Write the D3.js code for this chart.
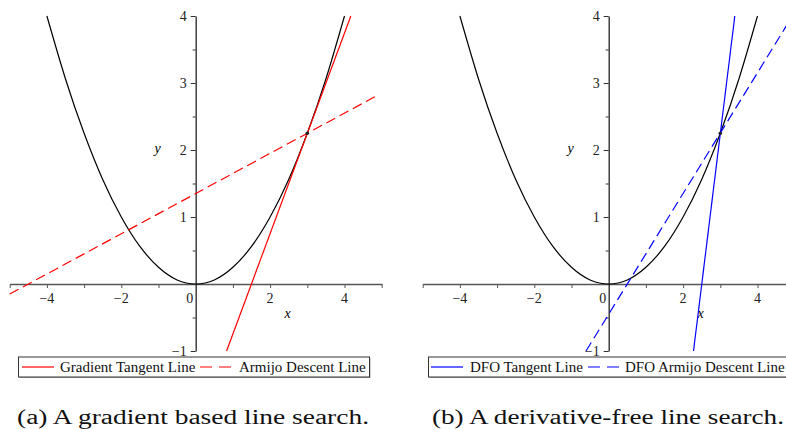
<!DOCTYPE html>
<html>
<head>
<meta charset="utf-8">
<script src="https://cdn.jsdelivr.net/npm/d3@7"></script>
<style>
  body { margin: 0; background: #fff; }
  svg { display: block; }
</style>
</head>
<body>
<script>
"use strict";

// parabola (y = x^2/4 shape)
let curveX = [-4, -3.5, -3, -2.5, -2, -1.5, -1, -0.5, 0, 0.5, 1, 1.5, 2, 2.5, 3, 3.5, 4];
let curveY = [4, 3.06, 2.25, 1.56, 1, 0.56, 0.25, 0.06, 0, 0.06, 0.25, 0.56, 1, 1.56, 2.25, 3.06, 4];

// (a) gradient based
let gradTangentX = [0.83, 4.17];
let gradTangentY = [-1, 4];
let armijoX = [-5, 4.9];
let armijoY = [-0.15, 2.82];

// (b) derivative free
let dfoTangentX = [2.28, 3.39];
let dfoTangentY = [-1, 4];
let dfoArmijoX = [-0.61, 4.94];
let dfoArmijoY = [-1, 4];

// the current iterate
let pointX = [3];
let pointY = [2.25];

let xMajorTicks = [-4, -2, 0, 2, 4];
let xAllTicks = [-5, -4, -3, -2, -1, 1, 2, 3, 4, 5];
let yMajorTicks = [-1, 1, 2, 3, 4];
let yMinorTicks = [-0.5, 0.5, 1.5, 2.5, 3.5];

let legendA = ["Gradient Tangent Line", "Armijo Descent Line"];
let legendB = ["DFO Tangent Line", "DFO Armijo Descent Line"];
let captionA = "(a) A gradient based line search.";
let captionB = "(b) A derivative-free line search.";

let w = 786;
let h = 429;
let serif = "'Liberation Serif', 'Times New Roman', serif";

let svg = d3.select("body")
    .append("svg")
    .attr("width", w)
    .attr("height", h)
    .style("background", "#fff");

function zip(xs, ys) {
    return xs.map(function (v, i) { return [v, ys[i]]; });
}

function fmt(d) {
    return d < 0 ? "\u2212" + Math.abs(d) : String(d);
}

function drawPanel(left, color, solid, dashed, legend, legendPos) {
    let x = d3.scaleLinear().domain([-5, 5]).range([left, left + 372]);
    let y = d3.scaleLinear().domain([-1, 4]).range([351, 16]);
    let g = svg.append("g");

    //x axis through y = 0
    let xAxis = g.append("g")
        .attr("transform", "translate(0," + y(0) + ")")
        .call(d3.axisBottom(x).tickValues(xAllTicks).tickSize(4).tickSizeOuter(0).tickFormat(""));
    xAxis.select(".domain").attr("stroke", "#555").attr("stroke-width", 1.4);
    xAxis.selectAll(".tick line").attr("stroke", "#555");

    //y axis through x = 0
    let yAxis = g.append("g")
        .attr("transform", "translate(" + x(0) + ",0)")
        .call(d3.axisLeft(y).tickValues(yMajorTicks).tickSize(5).tickSizeOuter(0).tickFormat(""));
    yAxis.select(".domain").attr("stroke", "#333").attr("stroke-width", 1.4);
    yAxis.selectAll(".tick line").attr("stroke", "#333");

    let yMinor = g.append("g")
        .attr("transform", "translate(" + x(0) + ",0)")
        .call(d3.axisLeft(y).tickValues(yMinorTicks).tickSize(3).tickFormat(""));
    yMinor.select(".domain").remove();
    yMinor.selectAll(".tick line").attr("stroke", "#333");

    //y tick labels
    g.selectAll(".ylab")
        .data(yMajorTicks)
        .enter()
        .append("text")
        .attr("x", x(0) - 9)
        .attr("y", function (d) { return y(d) + 5; })
        .attr("text-anchor", "end")
        .attr("font-family", serif)
        .attr("font-size", 14)
        .attr("fill", "#222")
        .text(fmt);

    //x tick labels ("0" sits left of the y axis)
    g.selectAll(".xlab")
        .data(xMajorTicks)
        .enter()
        .append("text")
        .attr("x", function (d) { return d === 0 ? x(d) - 6 : x(d); })
        .attr("y", y(0) + 19)
        .attr("text-anchor", "middle")
        .attr("font-family", serif)
        .attr("font-size", 14)
        .attr("fill", "#222")
        .text(fmt);

    //axis names
    g.append("text")
        .attr("x", x(2.47))
        .attr("y", y(0) + 34)
        .attr("text-anchor", "middle")
        .attr("font-family", serif)
        .attr("font-style", "italic")
        .attr("font-size", 14)
        .text("x");
    g.append("text")
        .attr("x", x(0) - 38)
        .attr("y", y(1.95))
        .attr("text-anchor", "middle")
        .attr("font-family", serif)
        .attr("font-style", "italic")
        .attr("font-size", 14)
        .text("y");

    let line = d3.line()
        .x(function (d) { return x(d[0]); })
        .y(function (d) { return y(d[1]); });

    g.append("path")
        .datum(zip(curveX, curveY))
        .attr("fill", "none")
        .attr("stroke", "#000")
        .attr("stroke-width", 1.2)
        .attr("d", line.curve(d3.curveNatural));

    line.curve(d3.curveLinear);

    g.append("path")
        .datum(zip(solid[0], solid[1]))
        .attr("fill", "none")
        .attr("stroke", color)
        .attr("stroke-width", 1.2)
        .attr("d", line);

    g.append("path")
        .datum(zip(dashed[0], dashed[1]))
        .attr("fill", "none")
        .attr("stroke", color)
        .attr("stroke-width", 1.2)
        .attr("stroke-dasharray", "10,5")
        .attr("d", line);

    g.selectAll(".pt")
        .data(zip(pointX, pointY))
        .enter()
        .append("circle")
        .attr("cx", function (d) { return x(d[0]); })
        .attr("cy", function (d) { return y(d[1]); })
        .attr("r", 1.8)
        .attr("fill", "#222");

    //legend box
    let lg = g.append("g");
    lg.append("rect")
        .attr("x", legendPos.x + 1)
        .attr("y", 358)
        .attr("width", legendPos.w)
        .attr("height", 20)
        .attr("fill", "#aaa");
    lg.append("rect")
        .attr("x", legendPos.x)
        .attr("y", 357)
        .attr("width", legendPos.w)
        .attr("height", 20)
        .attr("fill", "#fff")
        .attr("stroke", "#333")
        .attr("stroke-width", 1);

    lg.selectAll(".sample")
        .data(legendPos.samples)
        .enter()
        .append("line")
        .attr("x1", function (d) { return d; })
        .attr("x2", function (d) { return d + 32; })
        .attr("y1", 367)
        .attr("y2", 367)
        .attr("stroke", color)
        .attr("stroke-width", 1.2)
        .attr("stroke-dasharray", function (d, i) { return i === 1 ? "12,7" : null; });

    lg.selectAll(".ltext")
        .data(legend)
        .enter()
        .append("text")
        .attr("x", function (d, i) { return legendPos.texts[i]; })
        .attr("y", 372)
        .attr("font-family", serif)
        .attr("font-size", 15)
        .attr("fill", "#111")
        .text(function (d) { return d; });
}

drawPanel(9.7, "#ff0000", [gradTangentX, gradTangentY], [armijoX, armijoY], legendA,
    { x: 18.5, w: 351, samples: [22, 200], texts: [60, 239] });
drawPanel(422.7, "#0000ff", [dfoTangentX, dfoTangentY], [dfoArmijoX, dfoArmijoY], legendB,
    { x: 428.5, w: 362, samples: [431, 588], texts: [470, 625] });

//captions
svg.selectAll(".caption")
    .data([[captionA, 17], [captionB, 432]])
    .enter()
    .append("text")
    .attr("x", function (d) { return d[1]; })
    .attr("y", 424)
    .attr("textLength", 352)
    .attr("lengthAdjust", "spacingAndGlyphs")
    .attr("font-family", serif)
    .attr("font-size", 20)
    .attr("fill", "#111")
    .text(function (d) { return d[0]; });
</script>
</body>
</html>
